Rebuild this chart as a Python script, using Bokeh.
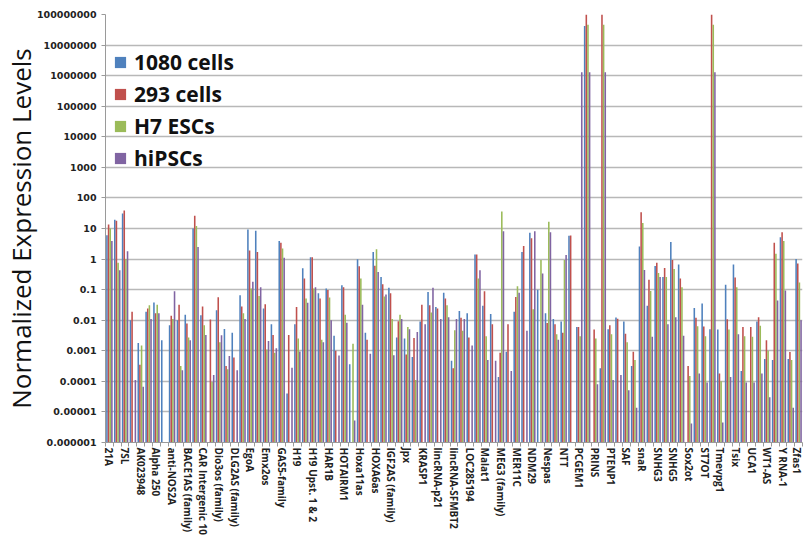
import numpy as np
from bokeh.plotting import figure
from bokeh.models import (Range1d, FixedTicker, CustomJSTickFormatter, Legend,
                          LegendItem, ColumnDataSource)
from bokeh.embed import file_html
from bokeh.resources import INLINE

# ---------------- data ----------------
categories = ["21A", "7SK", "7SL", "aHIF", "AK023948", "Air", "Alpha 250", "Alpha 280",
              "anti-NOS2A", "antiPeg11", "BACE1AS (family)", "BC200 (family)",
              "CAR Intergenic 10", "DHFR upstream transcripts", "Dio3os (family)", "DISC2",
              "DLG2AS (family)", "E2F4 antisense", "EgoA", "Emx2", "Emx2os", "Evf1 and 2",
              "GAS5-family", "Gomafu", "H19", "H19 antisense", "H19 Upst. 1 & 2", "HAR1A",
              "HAR1B", "HOTAIR", "HOTAIRM1", "HOTTIP", "Hoxa11as", "HOXA3as", "HOXA6as",
              "HULC", "IGF2AS (family)", "IPW", "Jpx", "Kcnq1ot1", "KRASP1", "L1PA16",
              "lincRNA-p21", "lincRNA-RoR", "lincRNA-SFMBT2", "LIT1", "LOC285194", "LUST",
              "Malat1", "MALAT1 AS", "MEG3 (family)", "MEG9", "MER11C", "ncR-uPAR", "NDM29",
              "NEAT1", "Nespas", "NRON", "NTT", "p53 mRNA", "PCGEM1", "PR antisense transcripts",
              "PRINS", "PSF inhibiting RNA", "PTENP1", "Rian", "SAF", "SCA8", "snaR", "SNHG1",
              "SNHG3", "SNHG4", "SNHG5", "SNHG6", "Sox2ot", "SRA", "ST7OT", "TEA ncRNAs",
              "Tmevpg1", "TncRNA", "Tsix", "TUG1", "UCA1", "UM9-5", "WT1-AS", "Xist",
              "Y RNA-1", "Zeb2NAT", "Zfas1"]

series_names = ["1080 cells", "293 cells", "H7 ESCs", "hiPSCs"]

cells_1080 = [6.0, 19.5, 31, 0.01, 0.0018, 0.019, 0.038, 0.0022, 0.0069, 0.01,
              0.015, 10, 0.0145, None, 0.021, 0.0052, 0.0039, 0.066, 9.3, 8.5,
              0.024, 0.0074, 3.9, 0.00004, 0.0074, 0.5, 1.15, 0.076, 0.11, 0.0031,
              0.14, 0.00036, 0.98, 0.0039, 1.7, 0.26, 0.115, 0.0027, 0.0025, 0.00063,
              0.0091, 0.083, 0.027, 0.079, 0.00047, 0.02, 0.017, 1.4, 0.03, 0.016,
              0.00014, 0.00093, 0.019, 1.7, 7.2, 0.1, 0.017, 0.011, 0.0091, 5.8,
              0.006, 4.2e7, None, 0.00027, 0.0051, 0.0123, 0.0091, 0.00032, 2.6, 0.03,
              0.59, 0.26, 3.6, 0.66, None, 0.025, 0.035, 0.0051, 0.005, 0.145,
              0.66, 0.00022, None, 0.0091, 0.00054, 0.0005, 5.2, 0.00054, 1.0]

cells_293 = [13.5, 18, 39, 0.019, 0.00035, 0.024, 0.017, None, 0.014, 0.032,
             0.0078, 26, 0.028, 0.0105, 0.056, 0.00032, 0.0006, 0.028, 1.9, 1.7,
             0.033, 0.0033, 3.4, 0.0033, 0.027, 0.23, 1.15, 0.051, 0.098, 0.001,
             0.12, None, 0.58, 0.0023, 0.6, 0.15, 0.076, 0.0093, 0.00076, 0.0026,
             0.032, 0.031, 0.024, 0.051, 0.00027, 0.012, 0.0027, 1.4, 0.089, 0.0074,
             0.00087, 0.0074, 0.058, 2.7, 4.8, None, 0.0081, 0.0074, 0.0039, 5.9,
             0.006, 1.5e8, 0.005, 1.5e8, 0.0069, 0.0112, 0.0036, 0.00093, 34, 0.21,
             0.76, 0.51, 0.93, 0.23, 0.00032, 0.012, 0.0062, 1.5e8, 0.00018, 0.0107,
             0.25, 0.006, 0.006, 0.0126, 0.0022, 3.4, 7.6, 0.00091, 0.72]

h7_escs = [10, 0.76, 1.0, None, 0.0015, 0.031, 0.032, None, 0.011, 0.00032,
           0.0027, 12, 0.0069, 0.000095, 0.0019, 0.00025, None, 0.017, 0.11, 0.062,
           0.0011, 0.00087, 2.2, None, 0.0025, 0.051, 0.11, 0.0023, 0.055, None,
           0.015, 0.0017, 0.23, None, 2.1, 0.06, 0.011, 0.015, 0.006, 0.00011,
           None, 0.018, None, 0.031, 0.0047, 0.0045, None, 0.23, 0.003, None,
           36, None, 0.13, None, 0.023, 0.93, 16.6, 0.0035, 0.93, None,
           0.003, 4.6e7, 0.0025, 4.6e7, 0.0035, None, 0.0019, 0.0005, 15, 0.09,
           0.35, 0.26, 0.47, 0.12, 0.00015, 0.0063, 0.003, 4.6e7, 0.0001, 0.005,
           0.12, 0.003, 0.0029, 0.0066, 0.001, 1.5, 3.9, 0.0005, 0.17]

hipscs = [3.9, 0.43, 1.8, 0.00011, 0.000066, 0.011, 0.017, None, 0.089, 0.00023,
          0.0022, 2.5, 0.0033, 0.00016, 0.0032, 0.00068, 0.00023, 0.011, 0.18, 0.12,
          0.0021, 0.0012, 1.1, 0.00028, 0.00095, 0.037, 0.12, 0.0019, 0.01, 0.0007,
          0.0083, 0.0000052, 0.032, 0.0008, 0.38, 0.07, 0.00072, 0.011, 0.0051, 0.0041,
          0.0074, 0.115, 0.011, 0.0126, 0.011, 0.011, 0.0015, 0.43, 0.0005, 0.00047,
          8.1, 0.00022, 0.079, 0.0045, 8.1, 0.34, 7.6, 0.0023, 1.35, None,
          1.3e6, 1.3e6, 0.00008, 1.3e6, 0.00011, 0.00016, 0.000051, 0.0000138, 0.44, 0.0029,
          0.26, 0.0074, 0.0126, 0.0031, 0.0000042, 0.00018, 0.000091, 1.3e6, 0.0000045, 0.00014,
          0.0035, 0.000091, 0.000091, 0.00018, 0.00003, 0.044, 0.093, 0.0000138, 0.01]

y_ticks = [10.0 ** k for k in range(-6, 9)]

colors = ["#4F81BD", "#C0504D", "#9BBB59", "#8064A2"]
offsets = [-0.315, -0.105, 0.105, 0.315]

# ---------------- figure ----------------
n = len(categories)
p = figure(width=803, height=539, x_range=Range1d(0, n), y_range=Range1d(1e-6, 1e8),
           y_axis_type="log", output_backend="svg", toolbar_location=None,
           min_border_left=103, min_border_right=1, min_border_top=14, min_border_bottom=97)
p.outline_line_color = None
p.background_fill_color = "white"

renderers = []
for vals, col, off in zip([cells_1080, cells_293, h7_escs, hipscs], colors, offsets):
    top = np.array([np.nan if v is None else v for v in vals], dtype=float)
    src = ColumnDataSource(dict(x=np.arange(n) + 0.5 + off, top=top))
    r = p.vbar(x="x", top="top", bottom=1e-6, width=0.2, source=src,
               fill_color=col, line_color=None)
    renderers.append(r)

# y axis
yt = FixedTicker(ticks=y_ticks, minor_ticks=[])
p.yaxis.ticker = yt
p.ygrid.ticker = yt
p.yaxis.formatter = CustomJSTickFormatter(code="""
const e = Math.round(Math.log10(tick));
if (e >= 0) { return String(Math.round(tick)); }
return tick.toFixed(-e);
""")
p.yaxis.major_label_text_font = "DejaVu Sans"
p.yaxis.major_label_text_font_style = "bold"
p.yaxis.major_label_text_font_size = "9.5px"
p.yaxis.major_label_text_color = "#222222"
p.yaxis.major_label_standoff = 5
p.yaxis.major_tick_out = 4
p.yaxis.major_tick_in = 0
p.yaxis.minor_tick_out = 0
p.yaxis.minor_tick_in = 0
p.yaxis.axis_line_color = "#9a9a9a"
p.yaxis.major_tick_line_color = "#9a9a9a"
p.yaxis.axis_label = "Normalized Expression Levels"
p.yaxis.axis_label_text_font = "Open Sans"
p.yaxis.axis_label_text_font_style = "normal"
p.yaxis.axis_label_text_font_size = "26px"
p.yaxis.axis_label_text_color = "#111111"
p.yaxis.axis_label_standoff = -5

p.ygrid.grid_line_color = "#b8b8b8"
p.ygrid.grid_line_width = 1.5
p.xgrid.visible = False

# x axis
xt = FixedTicker(ticks=[i + 0.5 for i in range(0, n, 2)],
                 minor_ticks=[float(i) for i in range(0, n + 1)])
p.xaxis.ticker = xt
p.xaxis.formatter = CustomJSTickFormatter(args=dict(names=categories),
                                          code="return names[Math.floor(tick)] || '';")
p.xaxis.major_label_orientation = "vertical"
p.xaxis.major_label_text_font = "Open Sans"
p.xaxis.major_label_text_font_style = "bold"
p.xaxis.major_label_text_font_size = "10px"
p.xaxis.major_label_text_color = "#222222"
p.xaxis.major_label_standoff = 1
p.xaxis.major_tick_out = 0
p.xaxis.major_tick_in = 0
p.xaxis.minor_tick_out = 4
p.xaxis.minor_tick_in = 0
p.xaxis.minor_tick_line_color = "#9a9a9a"
p.xaxis.axis_line_color = "#9a9a9a"

legend = Legend(items=[LegendItem(label=s, renderers=[r]) for s, r in zip(series_names, renderers)],
                location=(8, 270))
legend.label_text_font = "Open Sans"
legend.label_text_font_style = "bold"
legend.label_text_font_size = "21px"
legend.label_text_color = "#111111"
legend.glyph_width = 14
legend.glyph_height = 14
legend.label_height = 24
legend.label_standoff = 7
legend.spacing = 4
legend.padding = 0
legend.margin = 0
legend.border_line_color = None
legend.background_fill_alpha = 0
p.add_layout(legend)

open("out.html", "w").write(file_html(p, INLINE))
